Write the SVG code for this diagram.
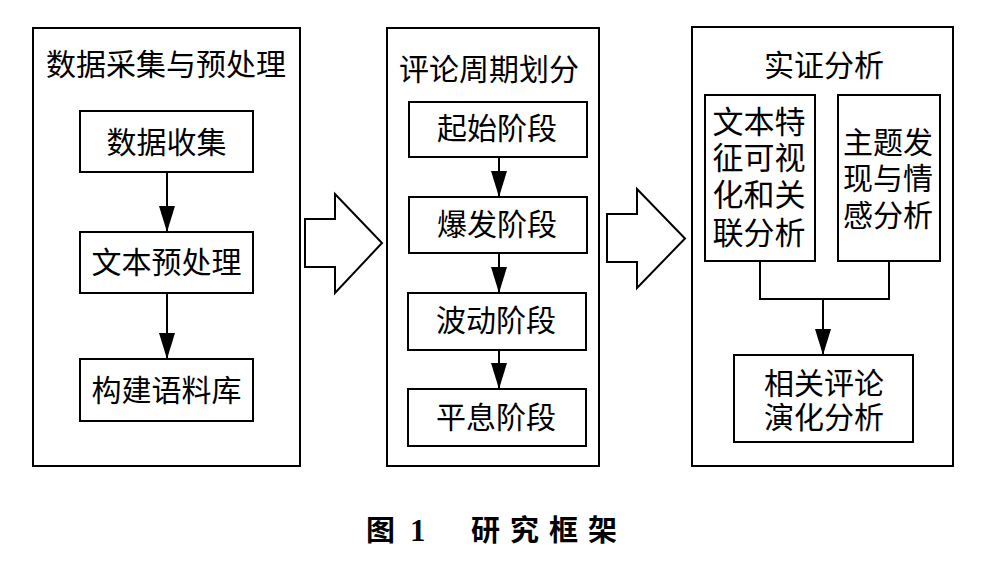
<svg xmlns="http://www.w3.org/2000/svg" width="994" height="567" viewBox="0 0 994 567">
<style>
.box{fill:#fff;stroke:#000;stroke-width:2}
.t{font-family:"Noto Sans CJK SC","Noto Sans CJK JP",sans-serif;font-size:30px;fill:#000;text-anchor:middle}
.m{font-family:"Liberation Sans","Noto Sans CJK SC","Noto Sans CJK JP",sans-serif}
.c{stroke:#000;stroke-width:2;fill:none}
.big{fill:#fff;stroke:#000;stroke-width:2;stroke-linejoin:miter}
.cap{font-family:"Noto Sans CJK SC",sans-serif;font-size:29px;font-weight:bold;fill:#000}
</style>
<defs>
<marker id="ah" markerWidth="26" markerHeight="16" refX="26" refY="8" orient="auto" markerUnits="userSpaceOnUse">
<path d="M0,0 L26,8 L0,16 z" fill="#000"/>
</marker>
</defs>
<rect width="994" height="567" fill="#fff"/>

<g id="stage1">
<rect class="box" x="33" y="28" width="267" height="438"/>
<text class="t" x="166" y="75">数据采集与预处理</text>
</g>
<g id="n-collect">
<rect class="box" x="80" y="111" width="173" height="61"/>
<text class="t" x="166.5" y="153">数据收集</text>
</g>
<g id="n-preprocess">
<rect class="box" x="80" y="232" width="173" height="61"/>
<text class="t" x="166.5" y="273">文本预处理</text>
</g>
<g id="n-corpus">
<rect class="box" x="80" y="359" width="173" height="62"/>
<text class="t" x="166.5" y="401">构建语料库</text>
</g>

<g id="stage2">
<rect class="box" x="387" y="28" width="212" height="438"/>
<text class="t" x="489" y="80">评论周期划分</text>
</g>
<g id="n-start">
<rect class="box" x="409" y="102" width="178" height="55"/>
<text class="t" x="497" y="139">起始阶段</text>
</g>
<g id="n-burst">
<rect class="box" x="409" y="197" width="178" height="56"/>
<text class="t" x="497" y="235">爆发阶段</text>
</g>
<g id="n-fluct">
<rect class="box" x="408" y="293" width="178" height="57"/>
<text class="t" x="496" y="331">波动阶段</text>
</g>
<g id="n-calm">
<rect class="box" x="408" y="389" width="178" height="57"/>
<text class="t" x="496" y="428">平息阶段</text>
</g>

<g id="stage3">
<rect class="box" x="692" y="27" width="261" height="439"/>
<text class="t" x="824" y="76">实证分析</text>
</g>
<g id="n-textfeat">
<rect class="box" x="705" y="95" width="110" height="166"/>
<text class="t m" style="font-size:31px"><tspan x="759" y="133">文本特</tspan><tspan x="759" y="169">征可视</tspan><tspan x="759" y="206">化和关</tspan><tspan x="759" y="244">联分析</tspan></text>
</g>
<g id="n-topic">
<rect class="box" x="838" y="95" width="102" height="166"/>
<text class="t m"><tspan x="888" y="153">主题发</tspan><tspan x="888" y="189">现与情</tspan><tspan x="888" y="226">感分析</tspan></text>
</g>
<g id="n-evol">
<rect class="box" x="734" y="355" width="179" height="87"/>
<text class="t m"><tspan x="824" y="394">相关评论</tspan><tspan x="824" y="428">演化分析</tspan></text>
</g>

<g id="connectors">
<line class="c" x1="167" y1="172" x2="167" y2="232" marker-end="url(#ah)"/>
<line class="c" x1="167" y1="293" x2="167" y2="359" marker-end="url(#ah)"/>
<line class="c" x1="499" y1="157" x2="499" y2="197" marker-end="url(#ah)"/>
<line class="c" x1="499" y1="253" x2="499" y2="293" marker-end="url(#ah)"/>
<line class="c" x1="499" y1="350" x2="499" y2="389" marker-end="url(#ah)"/>
<polyline class="c" points="760,261 760,299 889,299 889,261"/>
<line class="c" x1="823" y1="299" x2="823" y2="355" marker-end="url(#ah)"/>
<polygon class="big" points="305,219 335,219 335,194 382,243 335,293 335,267 305,267"/>
<polygon class="big" points="607,214 637,214 637,189 685,238.5 637,288 637,262 607,262"/>
</g>

<g id="caption">
<text class="cap" x="366" y="541">图</text>
<text x="410" y="541" style="font-family:'Liberation Serif',serif;font-size:31px;font-weight:bold">1</text>
<text class="cap" x="471" y="541" style="letter-spacing:10px">研究框架</text>
</g>
</svg>
